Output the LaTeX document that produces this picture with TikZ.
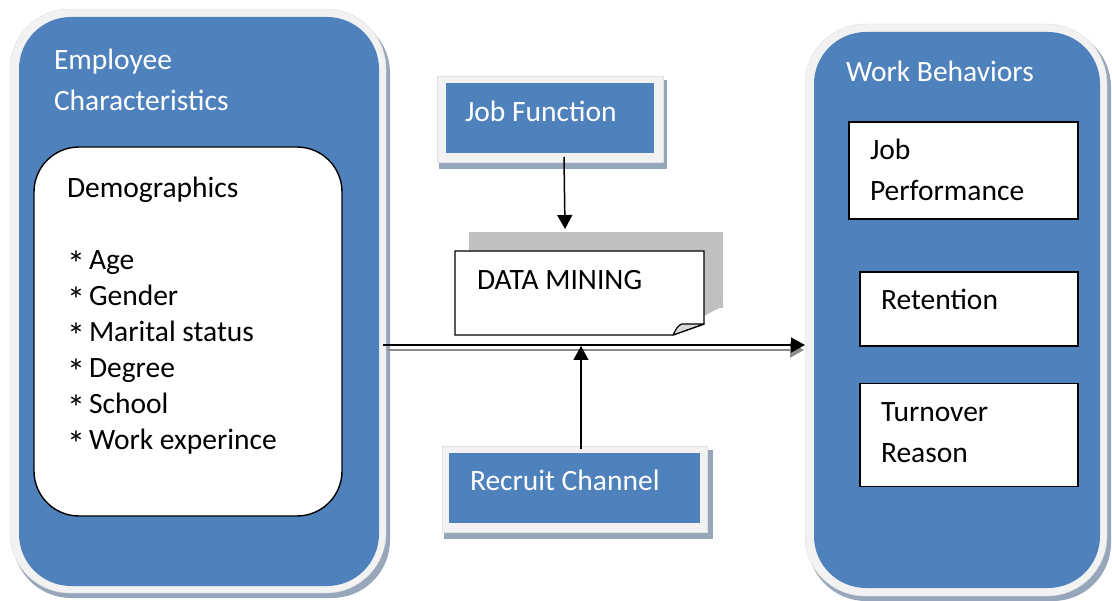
\documentclass[tikz,border=0pt]{standalone}
\usepackage{fontspec}
\setmainfont{Carlito}
\usetikzlibrary{arrows.meta}
\definecolor{boxblue}{HTML}{4F81BD}
\definecolor{framegray}{HTML}{F2F2F2}
\definecolor{shadowblue}{HTML}{97A6B9}
\definecolor{notegray}{HTML}{C0C0C0}
\definecolor{foldgray}{HTML}{D9D9D9}
\definecolor{lineshadow}{HTML}{8C8C8C}

\tikzset{
  txt/.style={anchor=base west, inner sep=0pt, outer sep=0pt, font=\fontsize{29.5}{35}\selectfont},
  wtxt/.style={txt, text=white},
  star/.style={anchor=base west, inner sep=0pt, outer sep=0pt, font=\fontsize{36}{36}\selectfont},
  bigbox/.style={fill=boxblue, inner sep=0pt, outer sep=0pt, rounded corners=52pt},
  smallbox/.style={fill=boxblue, inner sep=0pt, outer sep=0pt},
  whitebox/.style={fill=white, draw=black, line width=1.4pt, inner sep=0pt, outer sep=0pt},
  framefill/.style={fill=framegray, draw=black!12, line width=0.4pt},
  shadowfill/.style={fill=shadowblue},
  conn/.style={line width=1.5pt, -{Triangle[length=14pt,width=15pt]}},
  connshadow/.style={line width=2.2pt, lineshadow, -{Triangle[length=14pt,width=15pt]}},
}

\begin{document}
\begin{tikzpicture}[x=1pt,y=-1pt]
\useasboundingbox (0,0) rectangle (1112,601);
\fill[white] (0,0) rectangle (1112,601);

% ---- Employee characteristics panel
\fill[shadowfill, rounded corners=58pt] (13,15) rectangle (390,598);
\fill[framefill, rounded corners=60pt] (10,9) rectangle (386,593);
\node[bigbox, minimum width=360pt, minimum height=569pt] (emp) at (199,301.5) {};
\node[wtxt] at (54,70) {Employee};
\node[wtxt] at (54,111) {Characteristics};
\node[whitebox, rounded corners=45pt, minimum width=308pt, minimum height=369pt] (demo) at (188,331.5) {};
\node[txt] at (67,198) {Demographics};
\foreach \y/\t in {270/Age, 306/Gender, 342/Marital status, 378/Degree, 414/School, 450/Work experince}{
  \node[star] at (67,\y+7) {*};
  \node[txt] at (89,\y) {\t};
}

% ---- Work behaviors panel
\fill[shadowfill, rounded corners=58pt] (808,29) rectangle (1111,601);
\fill[framefill, rounded corners=60pt] (805,24) rectangle (1107,596);
\node[bigbox, minimum width=286pt, minimum height=556pt] (wb) at (957,310) {};
\node[wtxt] at (846,82) {Work Behaviors};
\node[whitebox, minimum width=229pt, minimum height=97pt] (perf) at (963.5,170.5) {};
\node[txt] at (870,160) {Job};
\node[txt] at (870,201) {Performance};
\node[whitebox, minimum width=218pt, minimum height=74pt] (ret) at (969,309) {};
\node[txt] at (881,310) {Retention};
\node[whitebox, minimum width=218pt, minimum height=103pt] (turn) at (969,435) {};
\node[txt] at (881,422) {Turnover};
\node[txt] at (881,463) {Reason};

% ---- Job function
\fill[shadowfill] (439,80) rectangle (667,169);
\fill[framefill] (437,76) rectangle (663,162);
\node[smallbox, minimum width=208pt, minimum height=70pt] (jf) at (550,118) {};
\node[wtxt] at (465,122) {Job Function};

% ---- Recruit channel
\fill[shadowfill] (444,450) rectangle (713,539);
\fill[framefill] (442,446) rectangle (707,532);
\node[smallbox, minimum width=251pt, minimum height=70pt] (rc) at (574.5,488) {};
\node[wtxt] at (470,491) {Recruit Channel};

% ---- Data mining note with its shadow and folded corner
\node[fill=notegray, inner sep=0pt, outer sep=0pt, minimum width=254pt, minimum height=76pt] (dmsh) at (596,270) {};
\fill[notegray] (704,300) -- (723,300) -- (723,306) -- (704,316) -- cycle;
\draw[fill=white, line width=1.4pt, line join=miter]
  (455,251) -- (704,251) -- (704,324) -- (673,335) -- (455,335) -- cycle;
\draw[fill=foldgray, line width=1.2pt, line join=round]
  (673,335) .. controls (676,329) and (678,325) .. (682,324) -- (704,324) -- cycle;
\node[txt] (dm) at (477,290) {DATA MINING};

% ---- Connectors
\draw[conn] ([shift={(14,4)}]jf.south) -- ([shift={(-31,-3)}]dmsh.north);
\draw[connshadow] ([shift={(8,48.5)}]emp.east) -- ([shift={(-10,40)}]wb.west);
\draw[conn] ([shift={(4,43.5)}]emp.east) -- ([shift={(-9,35)}]wb.west);
\draw[conn] ([shift={(6.5,-4)}]rc.north) -- ([shift={(6.5,-107)}]rc.north);
\end{tikzpicture}
\end{document}
